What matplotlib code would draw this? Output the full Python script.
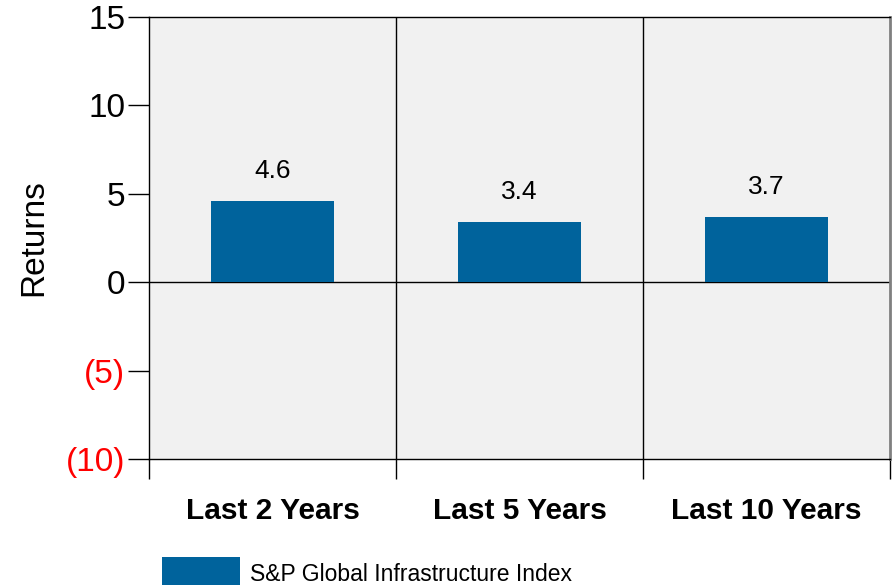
import matplotlib.pyplot as plt
from matplotlib.ticker import FixedLocator

plt.rcParams['font.family'] = ['Liberation Sans', 'DejaVu Sans']

periods = ['Last 2 Years', 'Last 5 Years', 'Last 10 Years']
returns = [4.6, 3.4, 3.7]
yticks = [15, 10, 5, 0, -5, -10]
ytick_labels = ['15', '10', '5', '0', '(5)', '(10)']
series_name = 'S&P Global Infrastructure Index'

bar_color = '#00639c'

fig = plt.figure(figsize=(8.96, 5.85), dpi=100)
ax = fig.add_axes([0.1663, 0.2154, 0.827, 0.7555])
ax.set_facecolor('#f1f1f1')

x = list(range(len(periods)))
bars = ax.bar(x, returns, width=0.5, color=bar_color, zorder=3, label=series_name)
for xi, v in zip(x, returns):
    ax.text(xi, v + 1.0, f'{v:.1f}', ha='center', va='bottom', fontsize=19)

ax.set_xlim(-0.5, len(periods) - 0.5)
ax.set_ylim(-10, 15)

# separators between periods, with ticks hanging below the axis
for b in [i + 0.5 for i in range(len(periods) - 1)]:
    ax.axvline(b, color='black', lw=1, zorder=2)
ax.axhline(0, color='black', lw=1, zorder=2)

ax.xaxis.set_major_locator(FixedLocator([i - 0.5 for i in range(len(periods) + 1)]))
ax.xaxis.set_ticklabels([])
ax.tick_params(axis='x', direction='out', length=14.5, width=1)
ax.xaxis.get_major_ticks()[-1].tick1line.set_color('#808080')
for xi, name in zip(x, periods):
    ax.text(xi, -12.95, name, ha='center', va='center', fontsize=21.5,
            fontweight='bold', transform=ax.transData, clip_on=False)

ax.set_yticks(yticks)
ax.set_yticklabels(ytick_labels, fontsize=24, va='center_baseline')
ax.tick_params(axis='y', direction='out', length=15, width=1, pad=2)
for lbl, v in zip(ax.get_yticklabels(), yticks):
    lbl.set_color('red' if v < 0 else 'black')
ax.set_ylabel('Returns', fontsize=24, labelpad=12)

for s in ['left', 'top', 'bottom']:
    ax.spines[s].set_color('black')
    ax.spines[s].set_linewidth(1)
ax.spines['right'].set_color('#808080')
ax.spines['right'].set_linewidth(2)

fig.legend(handles=[bars], labels=[series_name], loc='lower left',
           bbox_to_anchor=(0.158, -0.045), frameon=False, fontsize=16.5,
           handlelength=3.4, handleheight=1.9, handletextpad=0.45)

fig.savefig('out.png', dpi=100)
